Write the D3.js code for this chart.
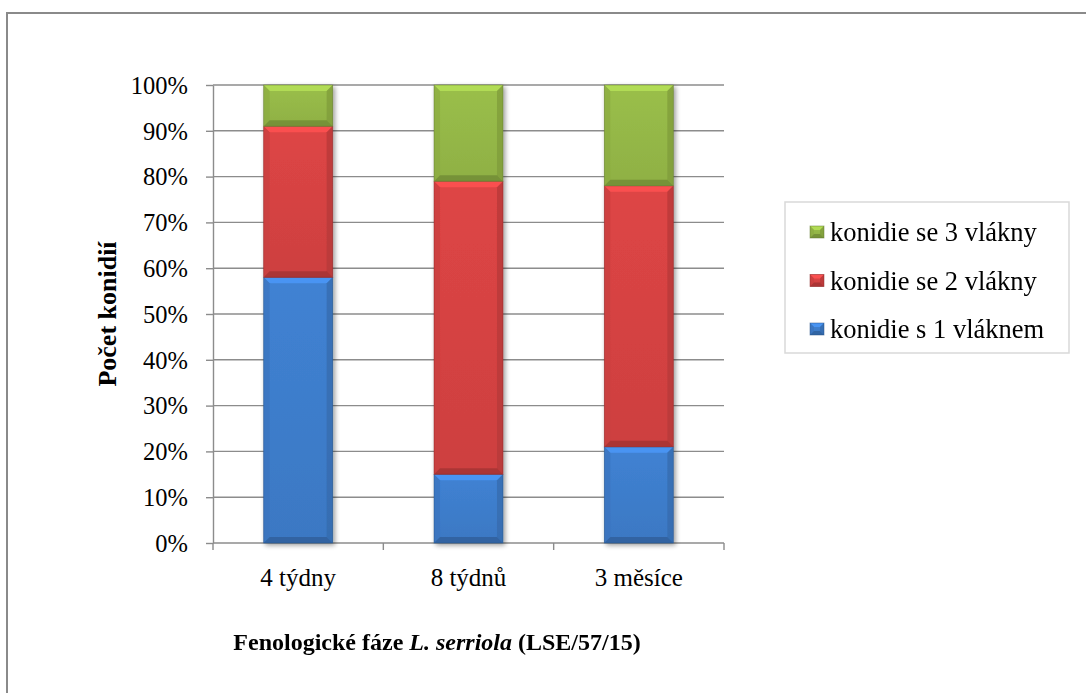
<!DOCTYPE html>
<html>
<head>
<meta charset="utf-8">
<script src="https://cdn.jsdelivr.net/npm/d3@7/dist/d3.min.js"></script>
<style>
  html, body { margin: 0; padding: 0; background: #fff; }
  svg { display: block; }
  svg text { font-family: "Liberation Serif", "Times New Roman", serif; }
</style>
</head>
<body>
<svg id="chart" width="1086" height="693"></svg>
<script>
// Podíl konidií podle počtu vláken v jednotlivých fenologických fázích
const categories = ["4 týdny", "8 týdnů", "3 měsíce"];
const seriesNames = ["konidie s 1 vláknem", "konidie se 2 vlákny", "konidie se 3 vlákny"];
const oneFilament   = [58, 15, 21];
const twoFilaments  = [33, 64, 57];
const threeFilaments = [9, 21, 22];
const yTicks = [0, 10, 20, 30, 40, 50, 60, 70, 80, 90, 100];
const seriesColors = ["#3e7dcc", "#d64343", "#95b847"];

const svg = d3.select("#chart");

// outer frame (top and left edges visible)
svg.append("path")
  .attr("d", "M7,693 L7,13 L1086,13")
  .attr("fill", "none").attr("stroke", "#8a8a8a").attr("stroke-width", 2);

const plot = { left: 213, right: 724, top: 85, bottom: 543 };

const x = d3.scaleBand().domain(categories).range([plot.left, plot.right]).paddingInner(0.595).paddingOuter(0.2975);
const y = d3.scaleLinear().domain([0, 100]).range([plot.bottom, plot.top]);

const rows = categories.map((c, i) => ({
  cat: c,
  [seriesNames[0]]: oneFilament[i],
  [seriesNames[1]]: twoFilaments[i],
  [seriesNames[2]]: threeFilaments[i]
}));
const stacked = d3.stack().keys(seriesNames)(rows);

// gridlines
svg.append("g").selectAll("line").data(yTicks.filter(t => t > 0)).join("line")
  .attr("x1", plot.left).attr("x2", plot.right)
  .attr("y1", d => y(d)).attr("y2", d => y(d))
  .attr("stroke", "#8c8c8c").attr("stroke-width", 1.4);

// y axis
const yAxis = svg.append("g").attr("transform", `translate(${plot.left},0)`)
  .call(d3.axisLeft(y).tickValues(yTicks).tickFormat(d => d + "%").tickSize(7).tickSizeOuter(0));
yAxis.attr("font-family", null).attr("font-size", null);
yAxis.select(".domain").attr("stroke", "#8c8c8c").attr("stroke-width", 1.4);
yAxis.selectAll(".tick line").attr("stroke", "#8c8c8c").attr("stroke-width", 1.4);
yAxis.selectAll(".tick text").attr("font-size", 24.5).attr("fill", "#000")
  .attr("x", -25).attr("dy", "0.34em");

// x axis (ticks at category boundaries)
const xAxisG = svg.append("g").attr("transform", `translate(0,${plot.bottom})`);
xAxisG.append("line").attr("x1", plot.left).attr("x2", plot.right)
  .attr("stroke", "#8c8c8c").attr("stroke-width", 1.4);
const step = x.step();
xAxisG.selectAll("line.tk").data(d3.range(categories.length + 1)).join("line")
  .attr("class", "tk")
  .attr("x1", i => plot.left + i * step).attr("x2", i => plot.left + i * step)
  .attr("y1", 0).attr("y2", 7)
  .attr("stroke", "#8c8c8c").attr("stroke-width", 1.4);
xAxisG.selectAll("text").data(categories).join("text")
  .attr("x", d => x(d) + x.bandwidth() / 2).attr("y", 43)
  .attr("text-anchor", "middle").attr("font-size", 25).text(d => d);

// bevel gradients / shadow
const defs = svg.append("defs");
const shadow = defs.append("filter").attr("id", "shadow").attr("x", "-20%").attr("y", "-20%").attr("width", "140%").attr("height", "140%");
shadow.append("feGaussianBlur").attr("in", "SourceAlpha").attr("stdDeviation", 2.5);
shadow.append("feOffset").attr("dx", 1.5).attr("dy", 2).attr("result", "b");
shadow.append("feComponentTransfer").append("feFuncA").attr("type", "linear").attr("slope", 0.4);
const m = shadow.append("feMerge");
m.append("feMergeNode");
m.append("feMergeNode").attr("in", "SourceGraphic");

// beveled block drawing
let gradCount = 0;
function bevelBlock(g, x0, y0, w, h, color, b) {
  const c = d3.color(color);
  const grad = "bevelGrad" + (gradCount++);
  const lg = defs.append("linearGradient").attr("id", grad).attr("x1", 0).attr("x2", 0).attr("y1", 0).attr("y2", 1);
  lg.append("stop").attr("offset", "0%").attr("stop-color", c.brighter(0.1));
  lg.append("stop").attr("offset", "100%").attr("stop-color", c.darker(0.12));
  const grp = g.append("g");
  grp.append("rect").attr("x", x0).attr("y", y0).attr("width", w).attr("height", h).attr("fill", `url(#${grad})`);
  const bb = Math.min(b, h / 2, w / 2);
  const x1 = x0 + w, y1 = y0 + h;
  // top bevel (light)
  grp.append("path").attr("d", `M${x0},${y0}L${x1},${y0}L${x1 - bb},${y0 + bb}L${x0 + bb},${y0 + bb}Z`)
    .attr("fill", c.brighter(0.55)).attr("opacity", 0.85);
  // left bevel
  grp.append("path").attr("d", `M${x0},${y0}L${x0 + bb},${y0 + bb}L${x0 + bb},${y1 - bb}L${x0},${y1}Z`)
    .attr("fill", c.darker(0.2)).attr("opacity", 0.7);
  // right bevel
  grp.append("path").attr("d", `M${x1},${y0}L${x1},${y1}L${x1 - bb},${y1 - bb}L${x1 - bb},${y0 + bb}Z`)
    .attr("fill", c.darker(0.5)).attr("opacity", 0.7);
  // bottom bevel
  grp.append("path").attr("d", `M${x0},${y1}L${x1},${y1}L${x1 - bb},${y1 - bb}L${x0 + bb},${y1 - bb}Z`)
    .attr("fill", c.darker(0.75)).attr("opacity", 0.85);
  grp.append("rect").attr("x", x0).attr("y", y0).attr("width", w).attr("height", h)
    .attr("fill", "none").attr("stroke", c.darker(1.2)).attr("stroke-width", 0.8).attr("opacity", 0.6);
}

const barsG = svg.append("g").attr("filter", "url(#shadow)");
stacked.forEach((layer, si) => {
  layer.forEach((d, ci) => {
    const x0 = x(categories[ci]);
    const yTop = y(d[1]), yBot = y(d[0]);
    bevelBlock(barsG, x0, yTop, x.bandwidth(), yBot - yTop, seriesColors[si], 6);
  });
});

// axis titles
svg.append("text")
  .attr("transform", `translate(116,${(plot.top + plot.bottom) / 2}) rotate(-90)`)
  .attr("text-anchor", "middle").attr("font-size", 26).attr("font-weight", "bold")
  .text("Počet konidií");

const xt = svg.append("text").attr("x", 437).attr("y", 650)
  .attr("text-anchor", "middle").attr("font-size", 24).attr("font-weight", "bold");
xt.append("tspan").text("Fenologické fáze ");
xt.append("tspan").attr("font-style", "italic").text("L. serriola");
xt.append("tspan").text(" (LSE/57/15)");

// legend
const legend = svg.append("g");
legend.append("rect").attr("x", 785).attr("y", 202).attr("width", 284).attr("height", 151)
  .attr("fill", "#fff").attr("stroke", "#d9d9d9").attr("stroke-width", 1.5);
const legendOrder = [2, 1, 0];
legendOrder.forEach((si, i) => {
  const cy = 232 + i * 48.5;
  bevelBlock(legend, 810, cy - 6, 14, 12, seriesColors[si], 4);
  legend.append("text").attr("x", 830).attr("y", cy + 9).attr("font-size", 26.5).text(seriesNames[si]);
});
</script>
</body>
</html>
